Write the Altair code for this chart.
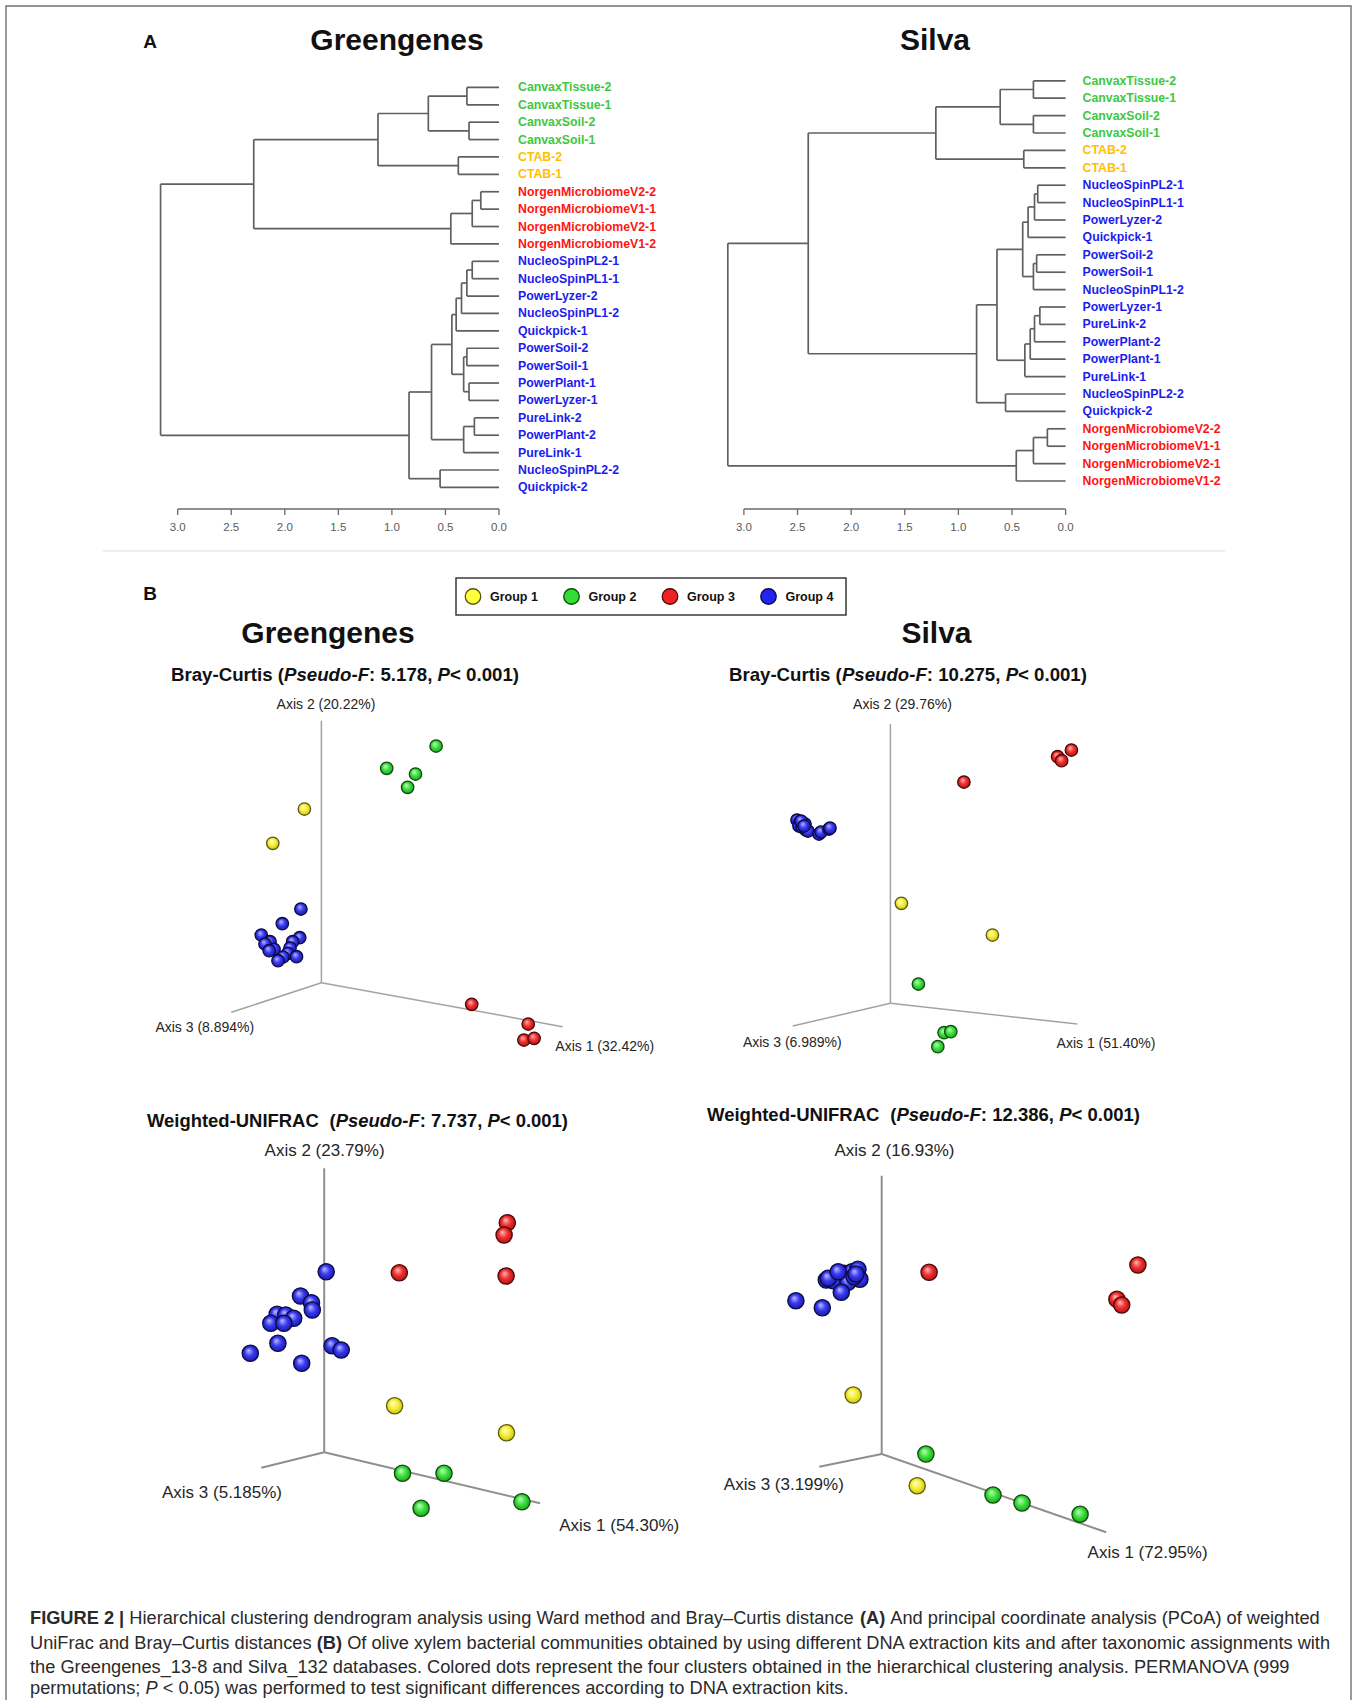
import altair as alt
import pandas as pd

W, H = 1357, 1700
FONT = "Liberation Sans"

# ------------------------------------------------------------------ data
GROUPS = ["Group 1", "Group 2", "Group 3", "Group 4"]
GROUP1 = ["CTAB-1", "CTAB-2"]
GROUP2 = ["CanvaxTissue-1", "CanvaxTissue-2", "CanvaxSoil-1", "CanvaxSoil-2"]
GROUP3 = ["NorgenMicrobiomeV1-1", "NorgenMicrobiomeV1-2", "NorgenMicrobiomeV2-1", "NorgenMicrobiomeV2-2"]

gg_leaves = [
    "CanvaxTissue-2", "CanvaxTissue-1", "CanvaxSoil-2", "CanvaxSoil-1", "CTAB-2", "CTAB-1",
    "NorgenMicrobiomeV2-2", "NorgenMicrobiomeV1-1", "NorgenMicrobiomeV2-1", "NorgenMicrobiomeV1-2",
    "NucleoSpinPL2-1", "NucleoSpinPL1-1", "PowerLyzer-2", "NucleoSpinPL1-2", "Quickpick-1",
    "PowerSoil-2", "PowerSoil-1", "PowerPlant-1", "PowerLyzer-1", "PureLink-2", "PowerPlant-2",
    "PureLink-1", "NucleoSpinPL2-2", "Quickpick-2"]
# (child a, child b, merge height); "#k" refers to the k-th merge
gg_merges = [
    ("CanvaxTissue-2", "CanvaxTissue-1", 0.30),
    ("CanvaxSoil-2", "CanvaxSoil-1", 0.28),
    ("#0", "#1", 0.66),
    ("CTAB-2", "CTAB-1", 0.38),
    ("#2", "#3", 1.13),
    ("NorgenMicrobiomeV2-2", "NorgenMicrobiomeV1-1", 0.17),
    ("#5", "NorgenMicrobiomeV2-1", 0.25),
    ("#6", "NorgenMicrobiomeV1-2", 0.45),
    ("#4", "#7", 2.29),
    ("NucleoSpinPL2-1", "NucleoSpinPL1-1", 0.25),
    ("#9", "PowerLyzer-2", 0.30),
    ("#10", "NucleoSpinPL1-2", 0.35),
    ("#11", "Quickpick-1", 0.40),
    ("PowerSoil-2", "PowerSoil-1", 0.30),
    ("PowerPlant-1", "PowerLyzer-1", 0.28),
    ("#13", "#14", 0.33),
    ("#12", "#15", 0.44),
    ("PureLink-2", "PowerPlant-2", 0.23),
    ("#17", "PureLink-1", 0.33),
    ("#16", "#18", 0.63),
    ("NucleoSpinPL2-2", "Quickpick-2", 0.55),
    ("#19", "#20", 0.84),
    ("#8", "#21", 3.16),
]

si_leaves = [
    "CanvaxTissue-2", "CanvaxTissue-1", "CanvaxSoil-2", "CanvaxSoil-1", "CTAB-2", "CTAB-1",
    "NucleoSpinPL2-1", "NucleoSpinPL1-1", "PowerLyzer-2", "Quickpick-1", "PowerSoil-2", "PowerSoil-1",
    "NucleoSpinPL1-2", "PowerLyzer-1", "PureLink-2", "PowerPlant-2", "PowerPlant-1", "PureLink-1",
    "NucleoSpinPL2-2", "Quickpick-2", "NorgenMicrobiomeV2-2", "NorgenMicrobiomeV1-1",
    "NorgenMicrobiomeV2-1", "NorgenMicrobiomeV1-2"]
si_merges = [
    ("CanvaxTissue-2", "CanvaxTissue-1", 0.30),
    ("CanvaxSoil-2", "CanvaxSoil-1", 0.30),
    ("#0", "#1", 0.61),
    ("CTAB-2", "CTAB-1", 0.39),
    ("#2", "#3", 1.21),
    ("NucleoSpinPL2-1", "NucleoSpinPL1-1", 0.26),
    ("#5", "PowerLyzer-2", 0.29),
    ("#6", "Quickpick-1", 0.35),
    ("PowerSoil-2", "PowerSoil-1", 0.27),
    ("#8", "NucleoSpinPL1-2", 0.30),
    ("#7", "#9", 0.40),
    ("PowerLyzer-1", "PureLink-2", 0.24),
    ("#11", "PowerPlant-2", 0.29),
    ("#12", "PowerPlant-1", 0.33),
    ("#13", "PureLink-1", 0.38),
    ("#10", "#14", 0.64),
    ("NucleoSpinPL2-2", "Quickpick-2", 0.56),
    ("#15", "#16", 0.83),
    ("#4", "#17", 2.40),
    ("NorgenMicrobiomeV2-2", "NorgenMicrobiomeV1-1", 0.17),
    ("#19", "NorgenMicrobiomeV2-1", 0.30),
    ("#20", "NorgenMicrobiomeV1-2", 0.46),
    ("#18", "#21", 3.15),
]
dendro_ticks = [3.0, 2.5, 2.0, 1.5, 1.0, 0.5, 0.0]

# PCoA projected coordinates (screen-projection units, origin = axes origin, up = +)
gg_bc_g1 = [(-17, 173.7), (-48.6, 139.4)]
gg_bc_g2 = [(114.7, 236.7), (65.3, 214.4), (94.1, 208.7), (86.2, 195.4)]
gg_bc_g3 = [(150.3, -21.6), (206.8, -41.3), (202.5, -57.3), (212.7, -55.6)]
gg_bc_g4 = [(-20.5, 73.7), (-39.1, 59), (-60.1, 47.7), (-21.7, 45), (-51.4, 41), (-28.8, 41),
            (-56.4, 38.7), (-31.4, 34.7), (-47.4, 33.4), (-52.2, 32), (-33.6, 29.4), (-24.9, 26),
            (-38.4, 25.7), (-43.4, 22)]
gg_bc_axes = ["Axis 1 (32.42%)", "Axis 2 (20.22%)", "Axis 3 (8.894%)"]

si_bc_g1 = [(11, 100), (102, 68.3)]
si_bc_g2 = [(28, 19.3), (53.7, -29.4), (60.4, -28.4), (47.4, -43.4)]
si_bc_g3 = [(181, 253.3), (167.2, 246.6), (171.2, 242.6), (73.5, 221.3)]
si_bc_g4 = [(-93.4, 183.3), (-90.4, 181.3), (-87.4, 180.3), (-85.4, 179.3), (-91.4, 177.3),
            (-88.4, 176.3), (-84.4, 173.3), (-82.4, 172.3), (-71.4, 169.3), (-69.4, 171.3),
            (-61.4, 174.3), (-60.4, 175.3), (-89.4, 182.3), (-86.4, 177.3)]
si_bc_axes = ["Axis 1 (51.40%)", "Axis 2 (29.76%)", "Axis 3 (6.989%)"]

gg_wu_g1 = [(70.4, 46.6), (182.3, 19.6)]
gg_wu_g2 = [(78.3, -21), (119.8, -21), (96.9, -56), (197.7, -49.4)]
gg_wu_g3 = [(183.1, 229.6), (179.9, 217.3), (75.1, 179.6), (181.9, 176.3)]
gg_wu_g4 = [(2, 180.6), (-23.7, 156.3), (-12.7, 149.6), (-11.9, 142.3), (-47.1, 138), (-38.4, 137.3),
            (-30.5, 134), (-53.4, 129), (-40.3, 129), (-46.3, 109), (-73.9, 99), (7.9, 106.6),
            (17, 102.3), (-22.5, 89)]
gg_wu_axes = ["Axis 1 (54.30%)", "Axis 2 (23.79%)", "Axis 3 (5.185%)"]

si_wu_g1 = [(-28.5, 59), (35.5, -31.7)]
si_wu_g2 = [(44.2, 0), (111.3, -41), (140.3, -49), (198.4, -60.3)]
si_wu_g3 = [(256.2, 189), (47.4, 181.7), (235.2, 154.7), (240, 149)]
si_wu_g4 = [(-55.4, 174), (-48.3, 173.3), (-37.6, 180.7), (-29.7, 182.3), (-23.8, 184.7),
            (-21.8, 174.7), (-33.7, 171.7), (-27.7, 177.3), (-40.4, 161.7), (-85.8, 153.3),
            (-59.4, 146.3), (-53.4, 175.7), (-43.5, 182.3), (-25.7, 180)]
si_wu_axes = ["Axis 1 (72.95%)", "Axis 2 (16.93%)", "Axis 3 (3.199%)"]

gg_bc_title = [("Bray-Curtis (", "b"), ("Pseudo-F", "bi"), (": 5.178, ", "b"), ("P", "bi"), ("< 0.001)", "b")]
si_bc_title = [("Bray-Curtis (", "b"), ("Pseudo-F", "bi"), (": 10.275, ", "b"), ("P", "bi"), ("< 0.001)", "b")]
gg_wu_title = [("Weighted-UNIFRAC  ", "b"), ("(", "b"), ("Pseudo-F", "bi"), (": 7.737, ", "b"), ("P", "bi"), ("< 0.001)", "b")]
si_wu_title = [("Weighted-UNIFRAC  ", "b"), ("(", "b"), ("Pseudo-F", "bi"), (": 12.386, ", "b"), ("P", "bi"), ("< 0.001)", "b")]

caption = [
    [("FIGURE 2 |", "b"), (" Hierarchical clustering dendrogram analysis using Ward method and Bray\u2013Curtis distance ", "r"),
     ("(A)", "b"), (" And principal coordinate analysis (PCoA) of weighted", "r")],
    [("UniFrac and Bray\u2013Curtis distances ", "r"), ("(B)", "b"),
     (" Of olive xylem bacterial communities obtained by using different DNA extraction kits and after taxonomic assignments with", "r")],
    [("the Greengenes_13-8 and Silva_132 databases. Colored dots represent the four clusters obtained in the hierarchical clustering analysis. PERMANOVA (999", "r")],
    [("permutations; ", "r"), ("P", "i"), (" < 0.05) was performed to test significant differences according to DNA extraction kits.", "r")],
]

# ------------------------------------------------------------------ styles / layout
LABEL_COLORS = ["#ffc000", "#3ec83e", "#ff1414", "#1c1cf0"]
LEG_FILL = ["#ffff40", "#33dd33", "#ee2424", "#2424ee"]
LEG_STROKE = ["#55550a", "#0d4d0d", "#500808", "#0a0a50"]
BALL = {
    "Group 1": (["#ffffd0", "#f6f040", "#c9c000"], "#5c5a10"),
    "Group 2": (["#c8ffc8", "#3ee03e", "#1a9e1a"], "#0d4d0d"),
    "Group 3": (["#ffc0c0", "#f03030", "#a81010"], "#4d0808"),
    "Group 4": (["#c0c0ff", "#3838f0", "#1616a0"], "#0a0a45"),
}

REG_W = dict(zip(" !%(),-.:;<|_\u2013", [278, 278, 889, 333, 333, 278, 333, 278, 278, 278, 584, 260, 556, 556]))
REG_W.update(dict(zip("ABCDEFGHIJKLMNOPQRSTUVWXYZ", [667, 667, 722, 722, 667, 611, 778, 722, 278, 500, 667, 556, 833,
                                                     722, 778, 667, 778, 722, 667, 611, 722, 667, 944, 667, 667, 611])))
REG_W.update(dict(zip("abcdefghijklmnopqrstuvwxyz", [556, 556, 500, 556, 556, 278, 556, 556, 222, 222, 500, 222, 833,
                                                     556, 556, 556, 556, 333, 500, 278, 556, 500, 722, 500, 500, 500])))
BOLD_W = dict(zip(" !%(),-.:;<|_\u2013", [278, 333, 889, 333, 333, 278, 333, 278, 333, 333, 584, 280, 556, 556]))
BOLD_W.update(dict(zip("ABCDEFGHIJKLMNOPQRSTUVWXYZ", [722, 722, 722, 722, 667, 611, 778, 722, 278, 556, 722, 611, 833,
                                                      722, 778, 667, 778, 722, 667, 611, 722, 667, 944, 667, 667, 611])))
BOLD_W.update(dict(zip("abcdefghijklmnopqrstuvwxyz", [556, 611, 556, 611, 556, 333, 611, 611, 278, 278, 556, 278, 889,
                                                      611, 611, 611, 611, 389, 556, 333, 611, 556, 778, 556, 556, 500])))


def em(text, style):
    tbl = BOLD_W if "b" in style else REG_W
    return sum(tbl.get(c, 556) for c in text) / 1000.0


def rich_rows(segments, x0, y, size, color):
    rows, x = [], x0
    for txt, style in segments:
        lead = txt[: len(txt) - len(txt.lstrip())]
        rows.append({"text": txt.strip(), "x": x + em(lead, style) * size, "y": y,
                     "style": style, "fs": size, "col": color})
        x += em(txt, style) * size
    return rows


def fit_size(segments, width):
    return width / sum(em(t, s) for t, s in segments)


PX = alt.Scale(domain=[0, W], range=[0, W], nice=False, zero=False)
PY = alt.Scale(domain=[0, H], range=[0, H], nice=False, zero=False)

layers = []

# figure frame and separator
frame = pd.DataFrame({"x": [6], "x2": [1351], "y": [6], "y2": [1740]})
layers.append(alt.Chart(frame).mark_rect(filled=False, color="#707070", strokeWidth=1.4).encode(
    x=alt.X("x:Q", scale=PX, axis=None), x2="x2:Q", y=alt.Y("y:Q", scale=PY, axis=None), y2="y2:Q"))
sep = pd.DataFrame({"x": [103], "x2": [1225], "y": [551]})
layers.append(alt.Chart(sep).mark_rule(color="#eeeeee", strokeWidth=2).encode(
    x=alt.X("x:Q", scale=PX, axis=None), x2="x2:Q", y=alt.Y("y:Q", scale=PY, axis=None)))

# big titles
titles = pd.DataFrame({
    "text": ["A", "B", "Greengenes", "Silva", "Greengenes", "Silva"],
    "x": [150, 150, 397, 935, 328, 936.5],
    "y": [42, 594, 41, 41, 634, 634],
    "fs": [19, 19, 30, 30, 30, 30],
})
layers.append(alt.Chart(titles).mark_text(font=FONT, fontWeight="bold", color="#111111", align="center",
                                          baseline="middle").encode(
    x=alt.X("x:Q", scale=PX, axis=None), y=alt.Y("y:Q", scale=PY, axis=None), text="text:N",
    size=alt.Size("fs:Q", scale=None, legend=None)))


# ------------------------------------------------------------------ dendrograms
def group_of(name):
    if name in GROUP1:
        return "Group 1"
    if name in GROUP2:
        return "Group 2"
    if name in GROUP3:
        return "Group 3"
    return "Group 4"


def dendro_segments(leaves, merges):
    pos = {n: float(i) for i, n in enumerate(leaves)}
    hgt = {n: 0.0 for n in leaves}
    rows = []
    for k, (a, b, h) in enumerate(merges):
        rows.append({"h": h, "h2": h, "i": pos[a], "i2": pos[b]})
        rows.append({"h": hgt[a], "h2": h, "i": pos[a], "i2": pos[a]})
        rows.append({"h": hgt[b], "h2": h, "i": pos[b], "i2": pos[b]})
        pos["#%d" % k] = (pos[a] + pos[b]) / 2
        hgt["#%d" % k] = h
    return pd.DataFrame(rows)


AXIS_Y = 509


def dendro_layers(leaves, merges, x_range, y_first, y_step, label_dx):
    n = len(leaves)
    gx = alt.Scale(domain=[3.0, 0.0], range=x_range, nice=False, zero=False)
    gy = alt.Scale(domain=[0, n - 1], range=[y_first, y_first + (n - 1) * y_step], nice=False, zero=False)
    out = []
    out.append(alt.Chart(dendro_segments(leaves, merges)).mark_rule(color="#606060", strokeWidth=1.7).encode(
        x=alt.X("h:Q", scale=gx, axis=None), x2="h2:Q",
        y=alt.Y("i:Q", scale=gy, axis=None), y2="i2:Q"))
    lab = pd.DataFrame({"name": leaves, "i": list(range(n)), "h": [0.0] * n,
                        "group": [group_of(s) for s in leaves]})
    out.append(alt.Chart(lab).mark_text(align="left", baseline="middle", dx=label_dx, font=FONT, fontSize=12.3,
                                        fontWeight="bold").encode(
        x=alt.X("h:Q", scale=gx, axis=None), y=alt.Y("i:Q", scale=gy, axis=None), text="name:N",
        color=alt.Color("group:N", scale=alt.Scale(domain=GROUPS, range=LABEL_COLORS), legend=None)))
    ax = pd.DataFrame({"a": [dendro_ticks[0]], "b": [dendro_ticks[-1]]})
    out.append(alt.Chart(ax).mark_rule(color="#6a6a6a", strokeWidth=1.3).encode(
        x=alt.X("a:Q", scale=gx, axis=None), x2="b:Q", y=alt.value(AXIS_Y)))
    tk = pd.DataFrame({"t": dendro_ticks, "lab": ["%.1f" % t for t in dendro_ticks]})
    out.append(alt.Chart(tk).mark_rule(color="#6a6a6a", strokeWidth=1.3).encode(
        x=alt.X("t:Q", scale=gx, axis=None), y=alt.value(AXIS_Y), y2=alt.value(AXIS_Y + 6)))
    out.append(alt.Chart(tk).mark_text(font=FONT, fontSize=11.5, color="#5a5a5a", baseline="middle",
                                       align="center").encode(
        x=alt.X("t:Q", scale=gx, axis=None), y=alt.value(AXIS_Y + 19), text="lab:N"))
    return out


layers += dendro_layers(gg_leaves, gg_merges, [177.7, 499.0], 87.4, 17.39, 19)
layers += dendro_layers(si_leaves, si_merges, [743.9, 1065.6], 80.8, 17.40, 17)

# ------------------------------------------------------------------ legend
leg = pd.DataFrame({"group": GROUPS, "x": [473 + 98.5 * i for i in range(4)], "y": [596.5] * 4})
leg["tx"] = leg["x"] + 17
box = pd.DataFrame({"x": [456], "x2": [846], "y": [578], "y2": [615]})
layers.append(alt.Chart(box).mark_rect(filled=False, color="#3a3a3a", strokeWidth=1.5).encode(
    x=alt.X("x:Q", scale=PX, axis=None), x2="x2:Q", y=alt.Y("y:Q", scale=PY, axis=None), y2="y2:Q"))
layers.append(alt.Chart(leg).mark_circle(size=240, opacity=1, strokeWidth=1.3).encode(
    x=alt.X("x:Q", scale=PX, axis=None), y=alt.Y("y:Q", scale=PY, axis=None),
    fill=alt.Fill("group:N", scale=alt.Scale(domain=GROUPS, range=LEG_FILL), legend=None),
    stroke=alt.Stroke("group:N", scale=alt.Scale(domain=GROUPS, range=LEG_STROKE), legend=None)))
layers.append(alt.Chart(leg).mark_text(font=FONT, fontSize=12.5, fontWeight="bold", color="#111111",
                                       align="left", baseline="middle").encode(
    x=alt.X("tx:Q", scale=PX, axis=None), y=alt.Y("y:Q", scale=PY, axis=None), text="group:N"))

# ------------------------------------------------------------------ PCoA panels
PANELS = [
    dict(origin=(321.4, 982.7), groups=[gg_bc_g1, gg_bc_g2, gg_bc_g3, gg_bc_g4], names=gg_bc_axes,
         ends=[(241.2, -44), (0, 262), (-90.1, -29.6)],
         lab_pos=[(283.3, -64.6), (4.6, 277.7), (-116.6, -45.6)],
         fs=14, ball=155, ax_col="#a3a3a3", ax_w=1.5),
    dict(origin=(890.4, 1003.3), groups=[si_bc_g1, si_bc_g2, si_bc_g3, si_bc_g4], names=si_bc_axes,
         ends=[(187, -20.7), (0, 279.3), (-97.7, -22.7)],
         lab_pos=[(215.6, -40.7), (12.1, 298.3), (-98.1, -39.4)],
         fs=14, ball=155, ax_col="#a3a3a3", ax_w=1.5),
    dict(origin=(324.2, 1452.3), groups=[gg_wu_g1, gg_wu_g2, gg_wu_g3, gg_wu_g4], names=gg_wu_axes,
         ends=[(215.9, -51), (0, 284), (-62.9, -15.4)],
         lab_pos=[(295, -73.4), (0.4, 301.6), (-102.2, -41)],
         fs=17, ball=265, ax_col="#8f8f8f", ax_w=2),
    dict(origin=(881.7, 1454), groups=[si_wu_g1, si_wu_g2, si_wu_g3, si_wu_g4], names=si_wu_axes,
         ends=[(224.5, -78.3), (0, 278.3), (-62.5, -12.7)],
         lab_pos=[(265.9, -99), (12.8, 303.3), (-97.9, -31)],
         fs=17, ball=265, ax_col="#8f8f8f", ax_w=2),
]


def ball_fill(stops):
    return {"gradient": "radial", "x1": 0.38, "y1": 0.32, "r1": 0.0, "x2": 0.5, "y2": 0.5, "r2": 0.55,
            "stops": [{"offset": 0.0, "color": stops[0]}, {"offset": 0.5, "color": stops[1]},
                      {"offset": 1.0, "color": stops[2]}]}


for p in PANELS:
    ox, oy = p["origin"]
    xs = alt.Scale(domain=[-400, 400], range=[ox - 400, ox + 400], nice=False, zero=False)
    ys = alt.Scale(domain=[-400, 400], range=[oy + 400, oy - 400], nice=False, zero=False)
    ax = pd.DataFrame({"u": [0, 0, 0], "v": [0, 0, 0],
                       "u2": [e[0] for e in p["ends"]], "v2": [e[1] for e in p["ends"]]})
    layers.append(alt.Chart(ax).mark_rule(color=p["ax_col"], strokeWidth=p["ax_w"]).encode(
        x=alt.X("u:Q", scale=xs, axis=None), x2="u2:Q", y=alt.Y("v:Q", scale=ys, axis=None), y2="v2:Q"))
    lb = pd.DataFrame({"text": p["names"], "u": [q[0] for q in p["lab_pos"]], "v": [q[1] for q in p["lab_pos"]]})
    layers.append(alt.Chart(lb).mark_text(font=FONT, fontSize=p["fs"], color="#262626", align="center",
                                          baseline="middle").encode(
        x=alt.X("u:Q", scale=xs, axis=None), y=alt.Y("v:Q", scale=ys, axis=None), text="text:N"))
    for g, pts in zip(GROUPS, p["groups"]):
        stops, stroke = BALL[g]
        df = pd.DataFrame({"u": [q[0] for q in pts], "v": [q[1] for q in pts]})
        layers.append(alt.Chart(df).mark_circle(size=p["ball"], opacity=1, fill=ball_fill(stops), stroke=stroke,
                                                strokeWidth=1.3).encode(
            x=alt.X("u:Q", scale=xs, axis=None), y=alt.Y("v:Q", scale=ys, axis=None)))

# ------------------------------------------------------------------ rich text (panel titles + caption)
rows = []
rows += rich_rows(gg_bc_title, 171, 675, fit_size(gg_bc_title, 348), "#111111")
rows += rich_rows(si_bc_title, 729, 675, fit_size(si_bc_title, 358), "#111111")
rows += rich_rows(gg_wu_title, 147, 1121, fit_size(gg_wu_title, 421), "#111111")
rows += rich_rows(si_wu_title, 707, 1115, fit_size(si_wu_title, 433), "#111111")
cap_size = fit_size(caption[0], 1290)
for line, yy in zip(caption, [1619, 1644, 1668, 1689]):
    rows += rich_rows(line, 30, yy, cap_size, "#2a2a2a")
rich = pd.DataFrame(rows)

for style in ["r", "b", "i", "bi"]:
    sub = rich[rich["style"] == style]
    if len(sub) == 0:
        continue
    layers.append(alt.Chart(sub).mark_text(
        font=FONT, align="left", baseline="middle",
        fontWeight="bold" if "b" in style else "normal",
        fontStyle="italic" if "i" in style else "normal").encode(
        x=alt.X("x:Q", scale=PX, axis=None), y=alt.Y("y:Q", scale=PY, axis=None), text="text:N",
        size=alt.Size("fs:Q", scale=None, legend=None),
        color=alt.Color("col:N", scale=None, legend=None)))

chart = alt.layer(*layers).resolve_scale(
    x="independent", y="independent", color="independent", size="independent",
    fill="independent", stroke="independent"
).properties(
    width=W, height=H, padding=0, background="white",
    autosize=alt.AutoSizeParams(type="none"),
).configure_view(strokeWidth=0)

chart.save("out.html", embed_options={"renderer": "svg", "actions": False})
